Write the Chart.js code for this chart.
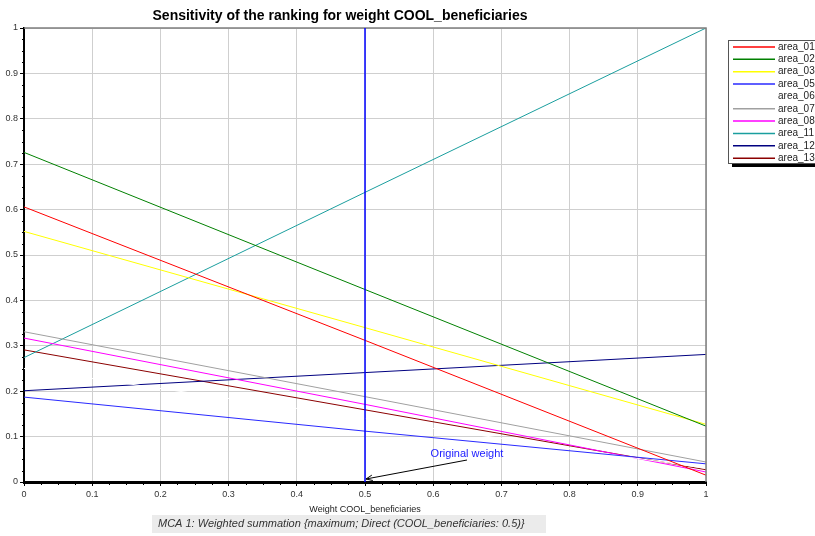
<!DOCTYPE html>
<html>
<head>
<meta charset="utf-8">
<script src="https://cdn.jsdelivr.net/npm/chart.js@4.4.0/dist/chart.umd.min.js"></script>
<style>
  html, body { margin: 0; padding: 0; background: #fff; overflow: hidden; }
</style>
</head>
<body>
<canvas id="grafico" width="815" height="536"></canvas>
<script>
// pesos evaluados (eje x) y puntaje de cada area
const pesos = [0, 0.5, 1];
const area_01 = [0.606, 0.312, 0.015];
const area_02 = [0.726, 0.424, 0.123];
const area_03 = [0.552, 0.340, 0.127];
const area_05 = [0.187, 0.112, 0.040];
const area_06 = [0.250, 0.140, 0.030];
const area_07 = [0.331, 0.188, 0.044];
const area_08 = [0.317, 0.171, 0.022];
const area_11 = [0.274, 0.638, 1.000];
const area_12 = [0.201, 0.241, 0.281];
const area_13 = [0.291, 0.159, 0.027];

const nombres = ['area_01', 'area_02', 'area_03', 'area_05', 'area_06', 'area_07', 'area_08', 'area_11', 'area_12', 'area_13'];
const valores = [area_01, area_02, area_03, area_05, area_06, area_07, area_08, area_11, area_12, area_13];
const colores = ['#ff0000', '#008000', '#ffff00', '#2a2aff', '#ffffff', '#a0a0a0', '#ff00ff', '#1a9e9e', '#000080', '#8b0000'];

const pesoOriginal = 0.5;
const titulo = 'Sensitivity of the ranking for weight COOL_beneficiaries';
const tituloEje = 'Weight COOL_beneficiaries';
const nota = 'MCA 1: Weighted summation {maximum; Direct (COOL_beneficiaries: 0.5)}';
const fuente = '"Liberation Sans", Arial, sans-serif';

const datasets = nombres.map((n, i) => ({
  label: n,
  data: pesos.map((p, j) => ({ x: p, y: valores[i][j] })),
  borderColor: colores[i],
  backgroundColor: colores[i],
  borderWidth: 1,
  pointRadius: 0,
  tension: 0
}));

const formato = (v) => String(Number(v.toFixed(1)));

// titulo, leyenda, marco, ticks menores, linea del peso original y nota
const extras = {
  id: 'extras',
  afterDraw(chart) {
    const ctx = chart.ctx;
    const a = chart.chartArea;
    const xs = chart.scales.x;
    const ys = chart.scales.y;
    ctx.save();

    // marco gris arriba y a la derecha
    ctx.strokeStyle = '#7f7f7f';
    ctx.lineWidth = 1.5;
    ctx.beginPath();
    ctx.moveTo(a.left, a.top);
    ctx.lineTo(a.right, a.top);
    ctx.lineTo(a.right, a.bottom);
    ctx.stroke();

    // ticks menores
    ctx.strokeStyle = '#000';
    ctx.lineWidth = 1;
    for (let k = 0; k <= 40; k++) {
      if (k % 4 === 0) continue;
      const v = k / 40;
      const px = Math.round(xs.getPixelForValue(v)) + 0.5;
      ctx.beginPath();
      ctx.moveTo(px, a.bottom);
      ctx.lineTo(px, a.bottom + 3);
      ctx.stroke();
      const py = Math.round(ys.getPixelForValue(v)) + 0.5;
      ctx.beginPath();
      ctx.moveTo(a.left - 2, py);
      ctx.lineTo(a.left, py);
      ctx.stroke();
    }

    // linea vertical del peso original
    const xo = xs.getPixelForValue(pesoOriginal);
    ctx.strokeStyle = '#0000ff';
    ctx.lineWidth = 1.5;
    ctx.beginPath();
    ctx.moveTo(xo, a.top);
    ctx.lineTo(xo, a.bottom);
    ctx.stroke();

    // flecha y texto
    const x0 = 467, y0 = 460, x1 = xo + 1, y1 = a.bottom - 3;
    ctx.strokeStyle = '#000';
    ctx.lineWidth = 1;
    ctx.beginPath();
    ctx.moveTo(x0, y0);
    ctx.lineTo(x1, y1);
    const ang = Math.atan2(y0 - y1, x0 - x1);
    ctx.moveTo(x1 + 7 * Math.cos(ang - 0.4), y1 + 7 * Math.sin(ang - 0.4));
    ctx.lineTo(x1, y1);
    ctx.lineTo(x1 + 7 * Math.cos(ang + 0.4), y1 + 7 * Math.sin(ang + 0.4));
    ctx.stroke();
    ctx.fillStyle = '#2020ff';
    ctx.font = '11px ' + fuente;
    ctx.textAlign = 'center';
    ctx.textBaseline = 'middle';
    ctx.fillText('Original weight', 467, 454);

    // titulo
    ctx.fillStyle = '#000';
    ctx.font = 'bold 14px ' + fuente;
    ctx.fillText(titulo, 340, 16);

    // titulo del eje x
    ctx.fillStyle = '#222';
    ctx.font = '9px ' + fuente;
    ctx.fillText(tituloEje, (a.left + a.right) / 2, 510);

    // nota inferior
    ctx.fillStyle = '#ebebeb';
    ctx.fillRect(152, 515, 394, 18);
    ctx.fillStyle = '#333';
    ctx.font = 'italic 11px ' + fuente;
    ctx.textAlign = 'left';
    ctx.fillText(nota, 158, 524);

    // leyenda con sombra (se sale por el borde derecho)
    const lx = 728, ly = 40, lw = 95, lh = 123;
    ctx.fillStyle = '#000';
    ctx.fillRect(lx + 4, ly + 4, lw, lh);
    ctx.fillStyle = '#fff';
    ctx.fillRect(lx, ly, lw, lh);
    ctx.strokeStyle = '#555';
    ctx.lineWidth = 1;
    ctx.strokeRect(lx + 0.5, ly + 0.5, lw, lh);
    ctx.font = '10px ' + fuente;
    nombres.forEach((n, i) => {
      const y = 47 + i * 12.35;
      ctx.strokeStyle = colores[i];
      ctx.lineWidth = 1.5;
      ctx.beginPath();
      ctx.moveTo(733, y);
      ctx.lineTo(775, y);
      ctx.stroke();
      ctx.fillStyle = '#222';
      ctx.fillText(n, 778, y);
    });

    ctx.restore();
  }
};

const myChart = new Chart(document.getElementById('grafico'), {
  type: 'line',
  data: { datasets: datasets },
  options: {
    responsive: false,
    animation: false,
    layout: { padding: { top: 28, right: 109, bottom: 0, left: 0 } },
    plugins: {
      legend: { display: false },
      title: { display: false },
      tooltip: { enabled: false }
    },
    scales: {
      x: {
        type: 'linear',
        min: 0,
        max: 1,
        afterFit: (s) => { s.height = 54; },
        ticks: { stepSize: 0.1, color: '#333', font: { family: fuente, size: 9 }, padding: 3, maxRotation: 0, callback: formato },
        grid: { color: '#cfcfcf', lineWidth: 1, tickLength: 4, tickColor: '#000' },
        border: { color: '#000', width: 3 }
      },
      y: {
        min: 0,
        max: 1,
        afterFit: (s) => { s.width = 24; },
        ticks: { stepSize: 0.1, color: '#333', font: { family: fuente, size: 9 }, padding: 2, callback: formato },
        grid: { color: '#cfcfcf', lineWidth: 1, tickLength: 4, tickColor: '#000' },
        border: { color: '#000', width: 2 }
      }
    }
  },
  plugins: [extras]
});
</script>
</body>
</html>
